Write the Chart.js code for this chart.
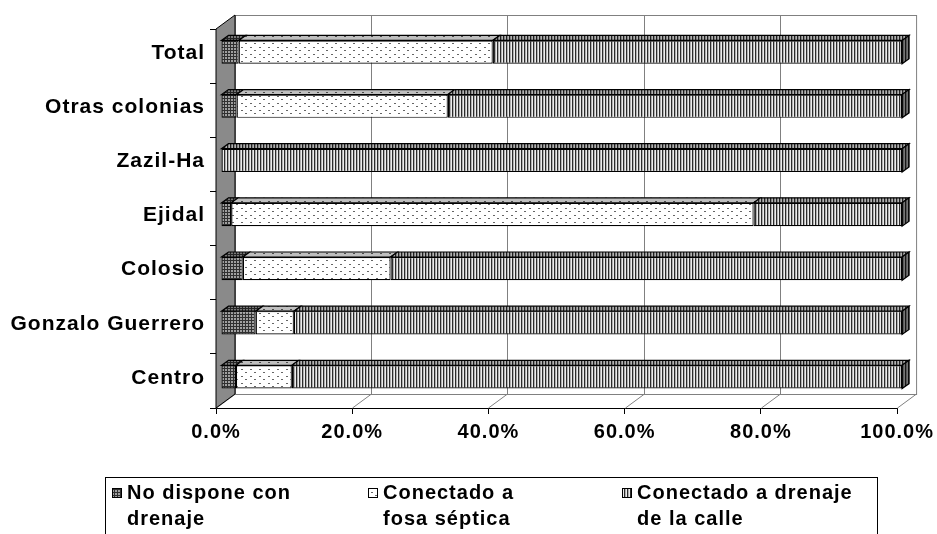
<!DOCTYPE html>
<html>
<head>
<meta charset="utf-8">
<script src="https://cdn.jsdelivr.net/npm/chart.js@4.4.0/dist/chart.umd.min.js"></script>
<style>
  html, body { margin: 0; padding: 0; background: #fff; }
  #wrap { width: 937px; height: 534px; }
</style>
</head>
<body>
<div id="wrap"><canvas id="c" width="937" height="534"></canvas></div>
<script>
// datos (porcentajes)
const categories = ['Total', 'Otras colonias', 'Zazil-Ha', 'Ejidal', 'Colosio', 'Gonzalo Guerrero', 'Centro'];
const sinDrenaje = [2.6, 2.3, 0, 1.5, 3.2, 5.1, 2.2];
const fosaSeptica = [37.3, 31.0, 0, 76.7, 21.7, 5.6, 8.2];
const drenajeCalle = [60.1, 66.7, 100, 21.8, 75.1, 89.3, 89.6];
const seriesNames = [['No dispone con', 'drenaje'], ['Conectado a', 'fosa séptica'], ['Conectado a drenaje', 'de la calle']];
const xTicks = [0, 20, 40, 60, 80, 100];

const FONT = '"Liberation Sans", Arial, sans-serif';
const DX = 19, DY = -14;   // profundidad de paredes
const BX = 5, BY = -4;     // frente de las barras
const TX = 7, TY = -5;     // profundidad de las barras

const canvas = document.getElementById('c');
const mainCtx = canvas.getContext('2d');

function makePattern(w, h, draw) {
  const c = document.createElement('canvas');
  c.width = w; c.height = h;
  draw(c.getContext('2d'));
  return mainCtx.createPattern(c, 'repeat');
}

const patDark = makePattern(3, 3, g => {
  g.fillStyle = '#303030'; g.fillRect(0, 0, 3, 3);
  g.fillStyle = '#a0a0a0'; g.fillRect(1, 1, 2, 2);
});
const patDots = makePattern(9, 7, g => {
  g.fillStyle = '#fff'; g.fillRect(0, 0, 9, 7);
  g.fillStyle = '#666'; g.fillRect(2, 2, 2, 1); g.fillRect(6, 5, 2, 1);
});
const patStripe = makePattern(3, 1, g => {
  g.fillStyle = '#2b2b2b'; g.fillRect(0, 0, 1, 1);
  g.fillStyle = '#b0b0b0'; g.fillRect(1, 0, 1, 1);
  g.fillStyle = '#ececec'; g.fillRect(2, 0, 1, 1);
});
const pats = [patDark, patDots, patStripe];

function face(ctx, pts, fill, shade) {
  ctx.beginPath();
  pts.forEach((p, k) => k ? ctx.lineTo(p[0], p[1]) : ctx.moveTo(p[0], p[1]));
  ctx.closePath();
  ctx.fillStyle = fill; ctx.fill();
  ctx.fillStyle = 'rgba(0,0,0,' + shade + ')'; ctx.fill();
  ctx.strokeStyle = '#000'; ctx.lineWidth = 1.2; ctx.stroke();
}

const threeD = {
  id: 'threeD',
  beforeDraw(chart) {
    chart.ctx.letterSpacing = '1px';
  },
  beforeDatasetsDraw(chart) {
    const { ctx, chartArea: a, scales: { x } } = chart;
    ctx.save();
    ctx.lineWidth = 1;
    ctx.strokeStyle = '#808080';
    ctx.strokeRect(a.left + DX + 0.5, a.top + DY + 0.5, a.right - a.left, a.bottom - a.top);
    xTicks.forEach(v => {
      const px = Math.round(x.getPixelForValue(v)) + 0.5;
      ctx.beginPath();
      if (v > 0 && v < 100) {
        ctx.moveTo(px + DX, a.top + DY);
        ctx.lineTo(px + DX, a.bottom + DY);
      }
      ctx.moveTo(px + DX, a.bottom + DY);
      ctx.lineTo(px, a.bottom);
      ctx.stroke();
    });
    // pared izquierda
    ctx.beginPath();
    ctx.moveTo(a.left, a.top);
    ctx.lineTo(a.left + DX, a.top + DY);
    ctx.lineTo(a.left + DX, a.bottom + DY);
    ctx.lineTo(a.left, a.bottom);
    ctx.closePath();
    ctx.fillStyle = '#8a8a8a';
    ctx.fill();
    ctx.strokeStyle = '#000';
    ctx.stroke();
    ctx.restore();
    ctx.save();
    ctx.translate(BX, BY);
  },
  afterDatasetsDraw(chart) {
    const ctx = chart.ctx;
    const metas = [0, 1, 2].map(i => chart.getDatasetMeta(i));
    categories.forEach((_, j) => {
      let last = null;
      metas.forEach((m, i) => {
        const el = m.data[j];
        const { x, y, base, height } = el.getProps(['x', 'y', 'base', 'height'], true);
        const l = Math.min(x, base), r = Math.max(x, base);
        if (r - l < 0.5) return;
        const t = y - height / 2;
        face(ctx, [[l, t], [r, t], [r + TX, t + TY], [l + TX, t + TY]], pats[i], 0.25);
        last = { r, t, b: t + height, i };
      });
      if (last) {
        face(ctx, [[last.r, last.t], [last.r + TX, last.t + TY], [last.r + TX, last.b + TY], [last.r, last.b]], pats[last.i], 0.5);
      }
    });
    ctx.restore();
  }
};

const legendX = [112, 368, 622];
const legendBox = {
  id: 'legendBox',
  afterDraw(chart) {
    const ctx = chart.ctx;
    ctx.save();
    ctx.letterSpacing = '1px';
    ctx.strokeStyle = '#000';
    ctx.lineWidth = 1;
    ctx.strokeRect(105.5, 477.5, 772, 80);
    ctx.font = 'bold 20px ' + FONT;
    ctx.textBaseline = 'alphabetic';
    legendX.forEach((lx, i) => {
      ctx.fillStyle = pats[i];
      ctx.fillRect(lx, 488, 10, 10);
      ctx.strokeRect(lx + 0.5, 488.5, 9, 9);
      ctx.fillStyle = '#000';
      ctx.fillText(seriesNames[i][0], lx + 15, 499);
      ctx.fillText(seriesNames[i][1], lx + 15, 525);
    });
    ctx.restore();
  }
};

const ds = (label, data, pat) => ({
  label, data,
  backgroundColor: pat,
  borderColor: '#000',
  borderWidth: 1.2,
  borderSkipped: false,
  barPercentage: 0.43,
  categoryPercentage: 1,
  clip: false
});

new Chart(canvas, {
  type: 'bar',
  data: {
    labels: categories,
    datasets: [
      ds(seriesNames[0].join(' '), sinDrenaje, patDark),
      ds(seriesNames[1].join(' '), fosaSeptica, patDots),
      ds(seriesNames[2].join(' '), drenajeCalle, patStripe)
    ]
  },
  options: {
    indexAxis: 'y',
    responsive: false,
    animation: false,
    devicePixelRatio: 1,
    layout: { padding: { top: 29, right: 39, left: 0, bottom: 0 } },
    plugins: { legend: { display: false }, tooltip: { enabled: false } },
    scales: {
      x: {
        stacked: true, min: 0, max: 100,
        afterBuildTicks: s => { s.ticks = xTicks.map(v => ({ value: v })); },
        afterFit: s => { s.height = 126; },
        ticks: {
          callback: v => v.toFixed(1) + '%',
          font: { family: FONT, size: 20, weight: 'bold' },
          color: '#000', padding: 6, maxRotation: 0
        },
        grid: { drawOnChartArea: false, drawTicks: true, tickLength: 6, color: '#000' },
        border: { color: '#000', width: 1 }
      },
      y: {
        stacked: true,
        afterFit: s => { s.width = 216; },
        ticks: {
          font: { family: FONT, size: 21, weight: 'bold' },
          color: '#000', padding: 5, labelOffset: -3
        },
        grid: { offset: true, drawOnChartArea: false, drawTicks: true, tickLength: 6, color: '#000' },
        border: { color: '#000', width: 1 }
      }
    }
  },
  plugins: [threeD, legendBox]
});
</script>
</body>
</html>
